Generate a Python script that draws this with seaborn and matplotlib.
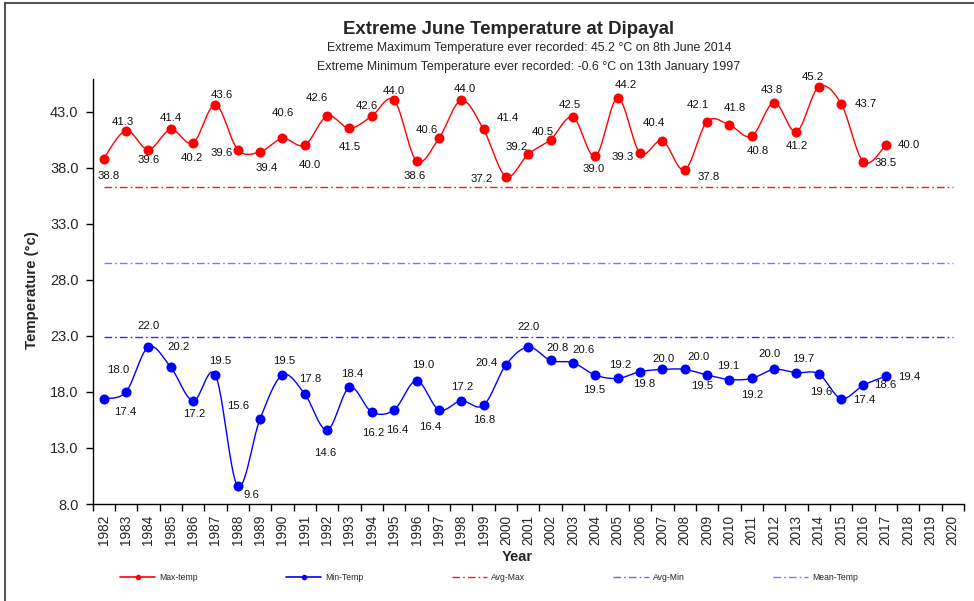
import numpy as np
import pandas as pd
import matplotlib.pyplot as plt
from matplotlib.lines import Line2D
from matplotlib.ticker import FixedLocator
import seaborn as sns

# data
axis_years = [str(y) for y in range(1982, 2021)]
years = list(range(1982, 2018))
max_temp = [38.8, 41.3, 39.6, 41.4, 40.2, 43.6, 39.6, 39.4, 40.6, 40.0,
            42.6, 41.5, 42.6, 44.0, 38.6, 40.6, 44.0, 41.4, 37.2, 39.2,
            40.5, 42.5, 39.0, 44.2, 39.3, 40.4, 37.8, 42.1, 41.8, 40.8,
            43.8, 41.2, 45.2, 43.7, 38.5, 40.0]
min_temp = [17.4, 18.0, 22.0, 20.2, 17.2, 19.5, 9.6, 15.6, 19.5, 17.8,
            14.6, 18.4, 16.2, 16.4, 19.0, 16.4, 17.2, 16.8, 20.4, 22.0,
            20.8, 20.6, 19.5, 19.2, 19.8, 20.0, 20.0, 19.5, 19.1, 19.2,
            20.0, 19.7, 19.6, 17.4, 18.6, 19.4]
avg_max = 36.3
avg_min = 22.9
mean_temp = 29.5

# label placement (pixel offsets from the point, + = right / down)
max_lbl_off = [(5, 17), (-3, -9), (0, 10), (0, -11), (-1, 15), (6, -10), (-16, 3), (7, 16),
               (0, -25), (5, 20), (-10, -18), (0, 19), (-5, -10), (0, -9), (-2, 15), (-12, -8),
               (4, -11), (24, -11), (-24, 2), (-12, -7), (-8, -8), (-3, -12), (-2, 13), (8, -13),
               (-17, 4), (-9, -18), (24, 7), (-9, -17), (5, -17), (6, 15), (-2, -13), (0, 14),
               (-6, -10), (25, 0), (22, 1), (23, 0)]
min_lbl_off = [(22, 13), (-8, -22), (0, -21), (8, -20), (1, 13), (5, -14), (14, 9), (-22, -13),
               (2, -14), (5, -15), (-2, 23), (3, -13), (1, 21), (3, 20), (7, -16), (-9, 17),
               (1, -14), (1, 15), (-19, -2), (0, -20), (7, -12), (11, -13), (-1, 15), (3, -13),
               (4, 12), (1, -10), (14, -12), (-5, 11), (-1, -14), (1, 17), (-5, -15), (7, -14),
               (2, 18), (23, 1), (22, 0), (23, 1)]


def smooth(xs, ys, n=24):
    # Excel style smoothed line (Catmull-Rom through the points)
    pts = np.column_stack([xs, ys]).astype(float)
    p = np.vstack([pts[0], pts, pts[-1]])
    out = []
    for i in range(1, len(p) - 2):
        p0, p1, p2, p3 = p[i - 1], p[i], p[i + 1], p[i + 2]
        c1 = p1 + (p2 - p0) / 6
        c2 = p2 - (p3 - p1) / 6
        t = np.linspace(0, 1, n, endpoint=False)[:, None]
        out.append((1 - t) ** 3 * p1 + 3 * (1 - t) ** 2 * t * c1 + 3 * (1 - t) * t ** 2 * c2 + t ** 3 * p2)
    out.append(pts[-1:])
    return np.vstack(out)


sns.set_style("white")
plt.rcParams['font.family'] = ['Liberation Sans', 'DejaVu Sans']

df = pd.DataFrame({"pos": [axis_years.index(str(y)) for y in years],
                   "max": max_temp, "min": min_temp})

fig = plt.figure(figsize=(9.74, 6.01), dpi=100)
ax = fig.add_axes([92.5 / 974, 97 / 601, 871.5 / 974, 425 / 601])

for col, color in [("max", "#FF0000"), ("min", "#0000FF")]:
    curve = smooth(df["pos"], df[col])
    sns.lineplot(x=curve[:, 0], y=curve[:, 1], sort=False, estimator=None,
                 color=color, lw=1.0, ax=ax)
    sns.scatterplot(data=df, x="pos", y=col, color=color, s=52, edgecolor=color,
                    linewidth=0, ax=ax, zorder=3)

dash = (0, (5.5, 2.2, 1.2, 2.2))
last = len(axis_years) - 1
ax.hlines(avg_max, 0, last, colors="#F02020", linestyles=dash, lw=1.0)
ax.hlines(mean_temp, 0, last, colors="#9966FF", linestyles=dash, lw=1.0)
ax.hlines(avg_min, 0, last, colors="#3535CC", linestyles=dash, lw=1.0)

for x, v, (dx, dy) in zip(df["pos"], max_temp, max_lbl_off):
    ax.annotate(f"{v:.1f}", (x, v), xytext=(dx, -dy), textcoords="offset pixels",
                ha="center", va="center", fontsize=8.2, color="#111111")
for x, v, (dx, dy) in zip(df["pos"], min_temp, min_lbl_off):
    ax.annotate(f"{v:.1f}", (x, v), xytext=(dx, -dy), textcoords="offset pixels",
                ha="center", va="center", fontsize=8.2, color="#111111")

ax.set_xlim(-0.5, last + 0.5)
ax.set_ylim(8, 45.9)
ax.set_yticks(np.arange(8, 44, 5))
ax.set_yticklabels([f"{v:.1f}" for v in np.arange(8, 44, 5)], fontsize=10.5)
ax.set_xticks(range(len(axis_years)))
ax.set_xticklabels(axis_years, rotation=90, fontsize=9.8)
ax.xaxis.set_minor_locator(FixedLocator(np.arange(-0.5, last + 1, 1)))
ax.tick_params(axis="x", which="major", length=0, pad=8)
ax.tick_params(axis="x", which="minor", length=5, width=1, color="black", direction="out", bottom=True)
ax.tick_params(axis="y", length=5, width=1, color="black", direction="out", left=True, pad=5)
ax.set_xlabel("")
ax.set_ylabel("")
for side in ["top", "right"]:
    ax.spines[side].set_visible(False)
for side in ["left", "bottom"]:
    ax.spines[side].set_color("black")
    ax.spines[side].set_linewidth(1.0)

fig.text(509 / 974, 1 - 30 / 601, "Extreme June Temperature at Dipayal", ha="center", va="center",
         fontsize=13.4, fontweight="bold")
fig.text(529 / 974, 1 - 48 / 601, "Extreme Maximum Temperature ever recorded: 45.2 °C on 8th June 2014",
         ha="center", va="center", fontsize=8.9)
fig.text(529 / 974, 1 - 67 / 601, "Extreme Minimum Temperature ever recorded: -0.6 °C on 13th January 1997",
         ha="center", va="center", fontsize=8.9)
fig.text(32 / 974, 1 - 290 / 601, "Temperature (°c)", rotation=90, ha="center", va="center",
         fontsize=10.8, fontweight="bold")
fig.text(517 / 974, 1 - 557 / 601, "Year", ha="center", va="center", fontsize=10.5, fontweight="bold")

handles = [
    Line2D([0], [0], color="#FF0000", lw=1.2, marker="o", markersize=3),
    Line2D([0], [0], color="#0000FF", lw=1.2, marker="o", markersize=3),
    Line2D([0], [0], color="#F02020", lw=1.0, linestyle=dash),
    Line2D([0], [0], color="#6A6AE0", lw=1.0, linestyle=dash),
    Line2D([0], [0], color="#9966FF", lw=1.0, linestyle=dash),
]
labels = ["Max-temp", "Min-Temp", "Avg-Max", "Avg-Min", "Mean-Temp"]
fig.legend(handles, labels, loc="center", bbox_to_anchor=(489 / 974, 1 - 578 / 601), ncol=5,
           frameon=False, fontsize=6.2, handlelength=4.1, handletextpad=0.5, columnspacing=10.2)

# outer chart border
fig.add_artist(Line2D([5 / 974, 1], [1 - 3 / 601, 1 - 3 / 601], color="#333333", lw=1.2,
                      transform=fig.transFigure))
fig.add_artist(Line2D([5 / 974, 5 / 974], [0, 1 - 3 / 601], color="#333333", lw=1.2,
                      transform=fig.transFigure))

fig.savefig("out.png", dpi=100)
